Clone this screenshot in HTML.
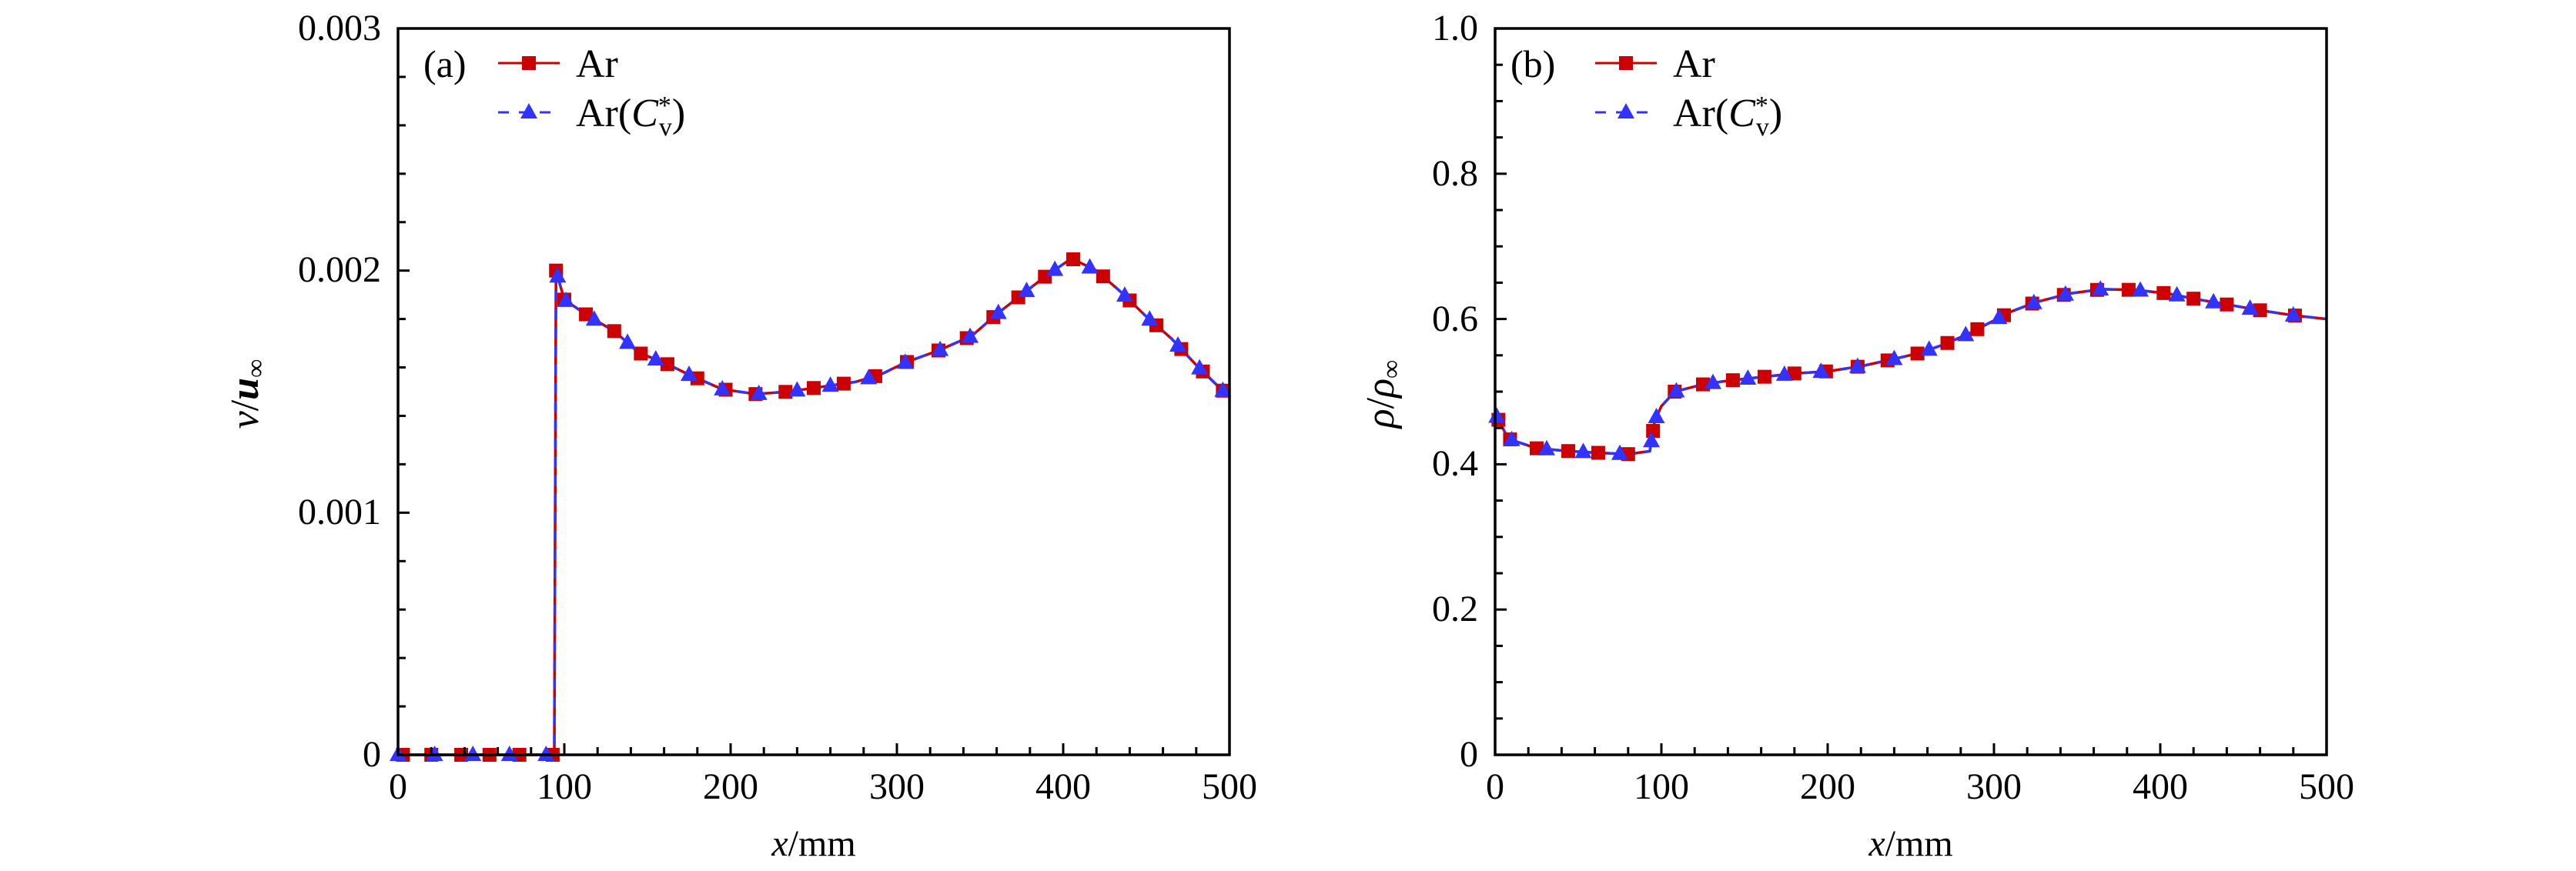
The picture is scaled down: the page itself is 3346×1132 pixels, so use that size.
<!DOCTYPE html>
<html><head><meta charset="utf-8"><style>
html,body{margin:0;padding:0;background:#fff;}
svg{display:block;font-family:"Liberation Serif","DejaVu Serif",serif;}
</style></head><body>
<svg id="s" width="3346" height="1132" viewBox="0 0 3346 1132" xmlns="http://www.w3.org/2000/svg">
<rect width="3346" height="1132" fill="#fff"/>
<g id="g"></g>
<g font-size="48" fill="#000">
<text x="495" y="52" text-anchor="end">0.003</text>
<text x="495" y="366" text-anchor="end">0.002</text>
<text x="495" y="681" text-anchor="end">0.001</text>
<text x="495" y="996" text-anchor="end">0</text>
<text x="517" y="1038" text-anchor="middle">0</text>
<text x="733" y="1038" text-anchor="middle">100</text>
<text x="949" y="1038" text-anchor="middle">200</text>
<text x="1165" y="1038" text-anchor="middle">300</text>
<text x="1381" y="1038" text-anchor="middle">400</text>
<text x="1597" y="1038" text-anchor="middle">500</text>
<text x="1057" y="1112" text-anchor="middle"><tspan font-style="italic">x</tspan>/mm</text>
<text transform="translate(335,512) rotate(-90)" text-anchor="middle" font-size="52"><tspan font-style="italic">v</tspan>/<tspan font-style="italic" font-weight="bold">u</tspan><tspan font-size="34" dy="8">∞</tspan></text>
<text x="550" y="100" font-size="50">(a)</text>
<text x="748" y="100" font-size="52">Ar</text>
<text x="748" y="164" font-size="52">Ar(<tspan font-style="italic">C</tspan><tspan font-size="34" dy="-16">*</tspan><tspan font-size="34" dx="-16" dy="28">v</tspan><tspan dy="-12">)</tspan></text>
</g>
<g font-size="48" fill="#000">
<text x="1920" y="52" text-anchor="end">1.0</text>
<text x="1920" y="241" text-anchor="end">0.8</text>
<text x="1920" y="430" text-anchor="end">0.6</text>
<text x="1920" y="618" text-anchor="end">0.4</text>
<text x="1920" y="807" text-anchor="end">0.2</text>
<text x="1920" y="996" text-anchor="end">0</text>
<text x="1942" y="1038" text-anchor="middle">0</text>
<text x="2158" y="1038" text-anchor="middle">100</text>
<text x="2374" y="1038" text-anchor="middle">200</text>
<text x="2590" y="1038" text-anchor="middle">300</text>
<text x="2806" y="1038" text-anchor="middle">400</text>
<text x="3022" y="1038" text-anchor="middle">500</text>
<text x="2482" y="1112" text-anchor="middle"><tspan font-style="italic">x</tspan>/mm</text>
<text transform="translate(1810,512) rotate(-90)" text-anchor="middle" font-size="52"><tspan font-style="italic">ρ</tspan>/<tspan font-style="italic">ρ</tspan><tspan font-size="34" dy="8">∞</tspan></text>
<text x="1962" y="100" font-size="50">(b)</text>
<text x="2173" y="100" font-size="52">Ar</text>
<text x="2173" y="164" font-size="52">Ar(<tspan font-style="italic">C</tspan><tspan font-size="34" dy="-16">*</tspan><tspan font-size="34" dx="-16" dy="28">v</tspan><tspan dy="-12">)</tspan></text>
</g>
</svg>
<script>
(function(){
var g=document.getElementById('g');var h='';
var R='#cc0000',B='#3333ff';
function interp(d,x){for(var i=0;i<d.length-1;i++){if(x<=d[i+1][0]){var t=(x-d[i][0])/(d[i+1][0]-d[i][0]||1);return d[i][1]+t*(d[i+1][1]-d[i][1]);}}return d[d.length-1][1];}
function sq(x,y){return '<rect x="'+(x-9)+'" y="'+(y-9)+'" width="18" height="18" fill="'+R+'"/>';}
function tri(x,y){return '<polygon points="'+x+','+(y-12)+' '+(x-11)+','+(y+8)+' '+(x+11)+','+(y+8)+'" fill="'+B+'"/>';}
function panel(L,ymax,data,sqx,trx,nmaj,nmin,legX){
 var W=1080,T=37,Bt=981,H=Bt-T;
 function px(x){return L+x*W/500;} function py(v){return Bt-v/ymax*H;}
 var p='';for(var i=0;i<data.length;i++)p+=(i?'L':'M')+px(data[i][0]).toFixed(1)+','+py(data[i][1]).toFixed(1);
 h+='<path d="'+p+'" fill="none" stroke="'+R+'" stroke-width="3.5"/>';
 h+='<path d="'+p+'" fill="none" stroke="'+B+'" stroke-width="3.5" stroke-dasharray="14,10"/>';
 sqx.forEach(function(x){h+=sq(px(x),py(interp(data,x)));});
 trx.forEach(function(x){h+=tri(px(x),py(interp(data,x)));});
 for(var i=0;i<=25;i++){var x=L+i*W/25,len=(i%5==0)?15:10;h+='<line x1="'+x+'" y1="'+Bt+'" x2="'+x+'" y2="'+(Bt-len)+'" stroke="#000" stroke-width="3"/>';}
 var n=nmaj*nmin;for(var i=0;i<=n;i++){var y=Bt-i*H/n,len=(i%nmin==0)?15:10;h+='<line x1="'+L+'" y1="'+y+'" x2="'+(L+len)+'" y2="'+y+'" stroke="#000" stroke-width="3"/>';}
 h+='<rect x="'+L+'" y="'+T+'" width="'+W+'" height="'+H+'" fill="none" stroke="#000" stroke-width="3.5"/>';
 h+='<line x1="'+legX+'" y1="82" x2="'+(legX+80)+'" y2="82" stroke="'+R+'" stroke-width="3"/>'+sq(legX+40,82);
 h+='<line x1="'+legX+'" y1="146" x2="'+(legX+80)+'" y2="146" stroke="'+B+'" stroke-width="3" stroke-dasharray="14,13"/>'+tri(legX+40,146);
}
var da=[[0,0],[94,0],[95,0.002],[100,0.00188],[115,0.00181],[130,0.00175],[145,0.00166],[160,0.00162],[175,0.00157],[195,0.00151],[215,0.00149],[235,0.0015],[255,0.00152],[275,0.00154],[290,0.00157],[305,0.00162],[325,0.00167],[345,0.00173],[360,0.00182],[375,0.0019],[390,0.00198],[405,0.00205],[420,0.002],[435,0.00191],[450,0.00181],[465,0.00172],[480,0.00161],[495,0.00151],[500,0.00148]];
panel(517,0.003,da,[3,20,38,55,73,93,95,100,113,130,146,162,180,197,215,233,250,268,287,306,325,342,358,373,389,406,424,440,456,471,484,496],
 [0,22,45,67,89,96,101,118,138,155,175,195,217,240,260,283,305,326,344,361,378,395,416,437,452,469,482,496],3,5,647);
var db=[[0,0.47],[8,0.435],[25,0.422],[45,0.418],[60,0.416],[80,0.414],[93,0.418],[96,0.46],[100,0.48],[108,0.5],[125,0.51],[140,0.515],[160,0.52],[180,0.525],[200,0.528],[220,0.535],[240,0.545],[255,0.553],[270,0.565],[285,0.58],[300,0.598],[310,0.61],[325,0.623],[345,0.635],[365,0.641],[385,0.64],[405,0.635],[420,0.628],[440,0.62],[460,0.612],[480,0.605],[500,0.6]];
panel(1942,1.0,db,[2,9,25,44,62,80,95,108,125,143,162,180,199,218,236,254,272,290,306,323,342,362,381,402,420,440,460,481],
 [1,10,31,53,75,94,97,109,131,152,174,196,218,240,261,283,303,324,343,364,388,410,432,454,480],5,4,2072);
g.innerHTML=h;
})();
</script>
</body></html>
